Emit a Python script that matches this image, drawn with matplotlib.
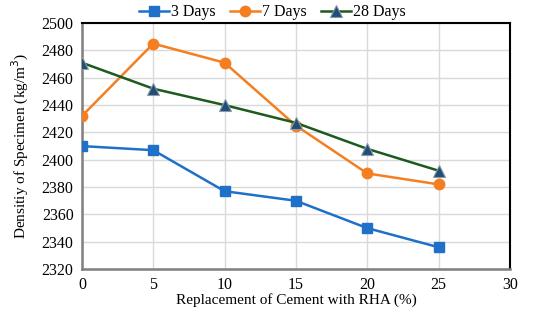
import matplotlib
matplotlib.use("Agg")
import matplotlib.pyplot as plt

replacement = [0, 5, 10, 15, 20, 25]
days3 = [2410, 2407, 2377, 2370, 2350, 2336]
days7 = [2432, 2485, 2471, 2425, 2390, 2382]
days28 = [2471, 2452, 2440, 2427, 2408, 2392]
series_labels = ["3 Days", "7 Days", "28 Days"]
xticks = [0, 5, 10, 15, 20, 25, 30]
yticks = list(range(2320, 2501, 20))

plt.rcParams['font.family'] = ['Liberation Serif', 'DejaVu Serif']

fig = plt.figure(figsize=(5.5, 3.25), dpi=100)
ax = fig.add_axes([0.149, 0.172, 0.778, 0.757])

ax.plot(replacement, days3, color='#1F70C8', lw=1.8, marker='s', ms=7,
        markerfacecolor='#1F70C8', markeredgecolor='#1F70C8', label=series_labels[0], zorder=3)
ax.plot(replacement, days7, color='#F57F20', lw=1.8, marker='o', ms=7.5,
        markerfacecolor='#F57F20', markeredgecolor='#F57F20', label=series_labels[1], zorder=3)
ax.plot(replacement, days28, color='#1E5A1E', lw=1.8, marker='^', ms=8,
        markerfacecolor='#1F4E79', markeredgecolor='#8A9AA8', markeredgewidth=0.8,
        label=series_labels[2], zorder=4)

ax.set_xlim(0, 30)
ax.set_ylim(2320, 2500)
ax.set_xticks(xticks)
ax.set_yticks(yticks)
ax.grid(True, color='#D9D9D9', lw=1)
ax.set_axisbelow(True)
ax.tick_params(length=0, labelsize=11.5, pad=6)

for s in ['top', 'right']:
    ax.spines[s].set_color('black')
    ax.spines[s].set_linewidth(1.5)
for s in ['left', 'bottom']:
    ax.spines[s].set_color('#7F7F7F')
    ax.spines[s].set_linewidth(1.8)

ax.set_xlabel('Replacement of Cement with RHA (%)', fontsize=11, labelpad=0)
ax.set_ylabel('Densitiy of Specimen (kg/m$^3$)', fontsize=11, labelpad=8)

ax.legend(loc='lower center', bbox_to_anchor=(0.445, 0.985), ncol=3, frameon=False,
          fontsize=11.5, handlelength=1.9, columnspacing=0.9, handletextpad=0.1,
          borderaxespad=0)

fig.savefig('out.png', dpi=100)
